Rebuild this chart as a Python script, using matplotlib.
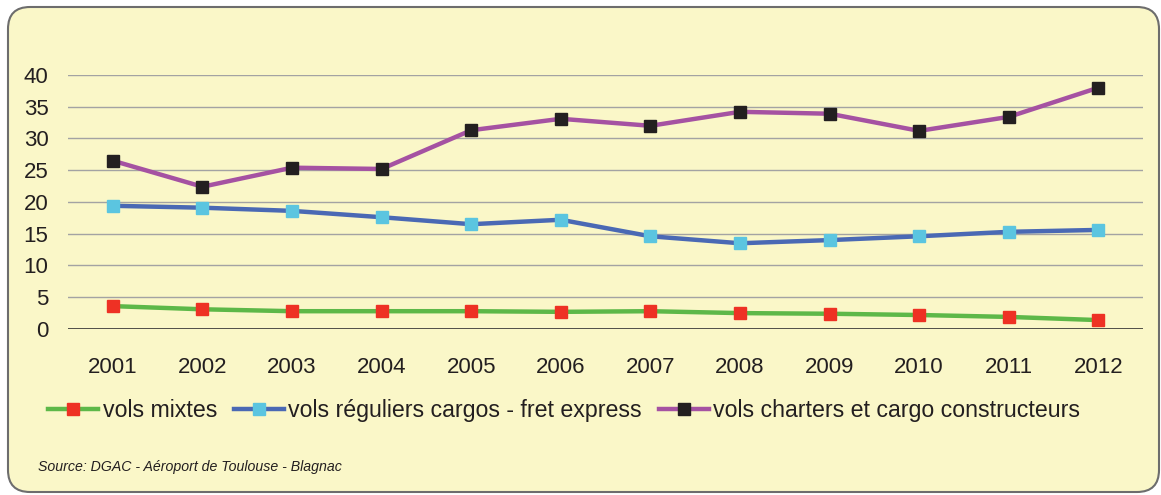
import matplotlib
matplotlib.use("Agg")
import matplotlib.pyplot as plt
from matplotlib.patches import FancyBboxPatch

plt.rcParams['font.family'] = ['Liberation Sans', 'DejaVu Sans']

years = ['2001', '2002', '2003', '2004', '2005', '2006',
         '2007', '2008', '2009', '2010', '2011', '2012']
vols_mixtes = [3.6, 3.1, 2.8, 2.8, 2.8, 2.7, 2.8, 2.5, 2.4, 2.2, 1.9, 1.4]
vols_reguliers = [19.4, 19.1, 18.6, 17.6, 16.5, 17.2, 14.6, 13.5, 14.0, 14.6, 15.3, 15.6]
vols_charters = [26.5, 22.4, 25.4, 25.2, 31.3, 33.1, 32.0, 34.2, 33.9, 31.2, 33.4, 38.0]
yticks = [0, 5, 10, 15, 20, 25, 30, 35, 40]

bg = '#FAF7C8'
W, H = 1161, 495
fig = plt.figure(figsize=(W / 100, H / 100), dpi=100)
fig.patch.set_facecolor('white')

# rounded yellow panel, drawn on a pixel-scaled background axes
bax = fig.add_axes([0, 0, 1, 1], zorder=0)
bax.set_xlim(0, W)
bax.set_ylim(0, H)
bax.axis('off')
bax.add_patch(FancyBboxPatch((8, 3), W - 10, H - 10,
                             boxstyle="round,pad=0,rounding_size=22",
                             facecolor=bg, edgecolor='#6d6d6d', linewidth=1.5))

ax = fig.add_axes([0.0586, 0.3354, 0.926, 0.5131], zorder=1)
ax.set_facecolor('none')

x = range(len(years))
ax.plot(x, vols_mixtes, color='#5DB848', lw=3.2, marker='s', ms=9,
        mfc='#EE3124', mec='#EE3124', label='vols mixtes', zorder=3)
ax.plot(x, vols_reguliers, color='#4A69B4', lw=3.2, marker='s', ms=9,
        mfc='#5BC5E0', mec='#5BC5E0', label='vols réguliers cargos - fret express', zorder=3)
ax.plot(x, vols_charters, color='#A552A2', lw=3.2, marker='s', ms=9,
        mfc='#231F20', mec='#231F20', label='vols charters et cargo constructeurs', zorder=3)

ax.set_xlim(-0.5, len(years) - 0.5)
ax.set_ylim(0, 40)
ax.set_yticks(yticks)
ax.set_xticks(list(x))
ax.set_xticklabels(years)
for y in yticks[1:]:
    ax.axhline(y, color='#a3a3a3', lw=1, zorder=1)
ax.axhline(0, color='#333333', lw=1.2, zorder=2)

for s in ax.spines.values():
    s.set_visible(False)
ax.tick_params(axis='both', length=0, labelsize=16, colors='#231F20')
ax.tick_params(axis='x', pad=20)
ax.tick_params(axis='y', pad=14)

leg = fig.legend(loc='center', bbox_to_anchor=(0.486, 0.171), ncol=3,
                 frameon=False, fontsize=16.7, handlelength=2.15,
                 handletextpad=0.2, columnspacing=0.73)
for t in leg.get_texts():
    t.set_color('#231F20')

fig.text(0.033, 0.0566, 'Source: DGAC - Aéroport de Toulouse - Blagnac',
         fontsize=10.2, style='italic', color='#231F20', va='center')

fig.savefig('out.png', dpi=100, facecolor=fig.get_facecolor())
